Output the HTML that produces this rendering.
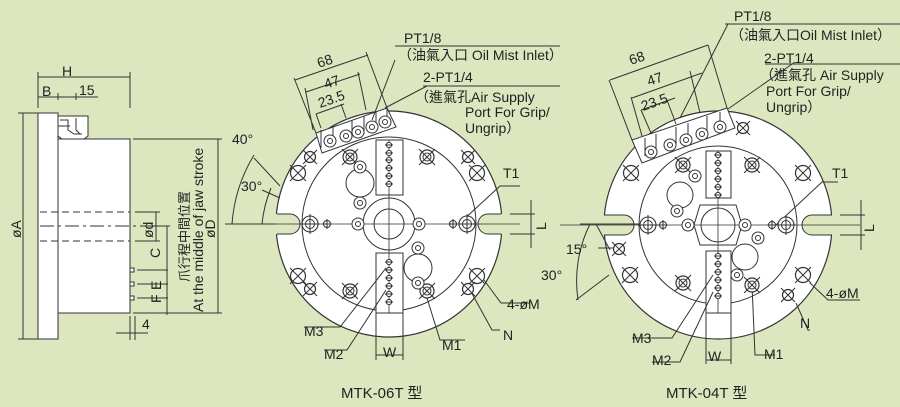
<!DOCTYPE html>
<html><head><meta charset="utf-8"><style>
html,body{margin:0;padding:0;background:#dce7c0;}
svg{display:block}
text{font-family:"Liberation Sans","Noto Sans CJK TC",sans-serif;fill:#222;}
</style></head><body>
<svg width="900" height="407" viewBox="0 0 900 407" xmlns="http://www.w3.org/2000/svg">
<defs>
<g id="hb"><circle r="7.5" fill="#fff" stroke="#333" stroke-width="1.2"/><path d="M-8 -8L8 8M8 -8L-8 8" stroke="#333" stroke-width="1"/></g>
<g id="hd"><circle r="7" fill="#fff" stroke="#333" stroke-width="1.2"/><circle r="4" fill="none" stroke="#333"/><path d="M-8 -8L8 8M8 -8L-8 8" stroke="#333" stroke-width="1"/></g>
<g id="hs"><circle r="5.5" fill="#fff" stroke="#333" stroke-width="1.2"/><path d="M-7 -7L7 7M7 -7L-7 7" stroke="#333" stroke-width="1"/></g>
<g id="ha"><circle r="8" fill="#fff" stroke="#333" stroke-width="1.1"/><circle r="4.5" fill="none" stroke="#333"/><path d="M-10 0H10M0 -10V10" stroke="#333"/></g>
<g id="hm"><circle r="3.5" fill="#fff" stroke="#333"/><path d="M-5 0H5M0 -5V5" stroke="#333"/></g>
<g id="hr"><circle r="6" fill="#fff" stroke="#333"/><circle r="2.5" fill="none" stroke="#333"/></g>
<g id="dot"><circle r="2.6" fill="#fff" stroke="#333"/><path d="M-4 0H4" stroke="#333"/></g>
</defs>
<g stroke="#333" stroke-width="1" fill="none">
<!-- SIDE VIEW -->
<rect x="38" y="113" width="20" height="226" fill="#fff"/>
<rect x="58" y="139" width="72" height="174" fill="#fff"/>
<path d="M58 116H88V136L84 139H62L58 136Z" fill="#fff"/>
<path d="M60 120H68V130L74 134H82M76 118V130L80 134M58 126H70"/>
<path d="M40 212H130M40 241H130" stroke-dasharray="7 4"/>
<path d="M40 226H138" stroke-dasharray="14 4 3 4"/>
<rect x="130" y="268" width="4" height="4" fill="#fff"/><rect x="130" y="282" width="4" height="4" fill="#fff"/><rect x="130" y="296" width="4" height="4" fill="#fff"/>
<path d="M38 108V72M130 108V72M38 77H130M38 97H58M58 93V100M76 93V100M58 97H98"/>
<path d="M18 113H38M18 339H38M23 113V339"/>
<path d="M133 139H222M133 313H222M218 139V313"/>
<path d="M135 212H160M135 241H160M156 212V241M140 226H170M167 226V315M137 270H168M137 284H168M137 298H168"/>
<path d="M130 316V340M135 316V340M116 333H148"/>
<!-- LEFT CHUCK -->
<circle cx="389" cy="224" r="113" fill="#fff" stroke-width="1.2"/>
<path d="M270 214H290A10 10 0 0 1 290 234H270Z" fill="#dce7c0" stroke="none"/>
<path d="M277 214H290A10 10 0 0 1 290 234H277" />
<path d="M508 214H488A10 10 0 0 0 488 234H508Z" fill="#dce7c0" stroke="none"/>
<path d="M501 214H488A10 10 0 0 0 488 234H501"/>
<circle cx="389" cy="224" r="87"/>
<rect x="376" y="140" width="27" height="55" fill="#fff"/>
<rect x="376" y="253" width="27" height="60" fill="#fff"/>
<path d="M376 313V360M403 313V360M376 355H403"/>
<circle cx="389" cy="224" r="26" fill="#fff"/><circle cx="389" cy="224" r="15"/>
<path d="M270 224H520M389 140V313" stroke-width="0.8"/>
<circle cx="360" cy="183" r="14" fill="#fff"/><circle cx="418" cy="268" r="14" fill="#fff"/>
<polygon points="316,133 387,108 396,127 322,153" fill="#fff"/>
<path d="M321 130V148M333 126V144M352 120V138M364 116V134M376 112V128M387 108V124"/>
<path d="M316 133L294 78M387 108L366 52M295 80L368 55M313 130L305 88M366 110L358 72M306 92L360 74M321 128L316 114M346 118L341 104M316 114L344 104"/>
<path d="M395 60L372 120M427 86L385 108"/>
<path d="M395 46H560M423 86H560"/>
<path d="M280 186L254 158M280 198L262 190M232 224A154 154 0 0 1 254 155M262 224A127 127 0 0 1 271 188M225 224H275"/>
<path d="M510 214H535M510 234H535M531 200V248"/>
<path d="M462 221L500 186H520M481 276L501 303H530M470 290L492 330H500M427 298L440 340H465M386 268L340 327H304M386 290L347 350H324"/>
<!-- RIGHT CHUCK -->
<circle cx="718" cy="225" r="114" fill="#fff" stroke-width="1.2"/>
<path d="M598 215H624A10 10 0 0 1 624 235H598Z" fill="#dce7c0" stroke="none"/>
<path d="M604 215H624A10 10 0 0 1 624 235H604"/>
<path d="M838 215H812A10 10 0 0 0 812 235H838Z" fill="#dce7c0" stroke="none"/>
<path d="M832 215H812A10 10 0 0 0 812 235H832"/>
<circle cx="718" cy="225" r="79"/>
<rect x="706" y="151" width="25" height="47" fill="#fff"/>
<rect x="706" y="251" width="25" height="62" fill="#fff"/>
<path d="M706 313V364M731 313V364M706 360H731"/>
<path d="M700 205L736 205L742 225L736 245L700 245L694 225Z" fill="#fff"/>
<circle cx="718" cy="225" r="17" fill="#fff"/>
<path d="M560 225H860M718 151V313" stroke-width="0.8"/>
<circle cx="680" cy="195" r="13" fill="#fff"/><circle cx="745" cy="257" r="13" fill="#fff"/>
<polygon points="632,140 727,108 735,128 642,163" fill="#fff"/>
<path d="M645 138V156M656 134V152M676 127V145M688 123V141M707 116V132M720 112V128"/>
<path d="M632 140L609 80M727 108L708 45M610 80L708 45M642 136L631 97M700 113L690 71M632 98L702 73M651 133L641 110M676 124L667 100M641 110L675 98"/>
<path d="M728 24L680 118M795 62L728 109"/>
<path d="M725 24H900M765 64H900"/>
<path d="M610 250L596 224M609 275L576 300M590 224A128 128 0 0 0 578 300M598 248H620M580 224H640"/>
<path d="M840 215H865M840 235H865M861 200V250"/>
<path d="M776 225L822 182H838M810 283L828 300H860M796 303L808 330H810M752 285L755 355H775M713 275L672 338H632M713 292L680 362H652"/>
</g>
<use href="#hb" x="298" y="173"/><use href="#hb" x="477" y="173"/><use href="#hb" x="298" y="276"/><use href="#hb" x="477" y="276"/>
<use href="#hs" x="310" y="157"/><use href="#hs" x="468" y="157"/><use href="#hs" x="310" y="289"/><use href="#hs" x="468" y="289"/>
<use href="#hd" x="350" y="157"/><use href="#hd" x="427" y="157"/><use href="#hd" x="350" y="291"/><use href="#hd" x="427" y="291"/>
<use href="#ha" x="310" y="224"/><use href="#ha" x="467" y="224"/>
<use href="#hm" x="327" y="224"/><use href="#hm" x="453" y="224"/>
<use href="#hr" x="358" y="224"/><use href="#hr" x="419" y="224"/>
<use href="#hr" x="360" y="167"/><use href="#hr" x="360" y="203"/><use href="#hr" x="418" y="248"/><use href="#hr" x="418" y="283"/>
<use href="#dot" x="389" y="145"/><use href="#dot" x="389" y="153"/><use href="#dot" x="389" y="160"/><use href="#dot" x="389" y="168"/><use href="#dot" x="389" y="176"/><use href="#dot" x="389" y="184"/>
<use href="#dot" x="389" y="262"/><use href="#dot" x="389" y="270"/><use href="#dot" x="389" y="278"/><use href="#dot" x="389" y="286"/><use href="#dot" x="389" y="294"/><use href="#dot" x="389" y="302"/>
<use href="#hr" x="330" y="141"/><use href="#hr" x="346" y="136"/><use href="#hr" x="358" y="132"/><use href="#hr" x="372" y="127"/><use href="#hr" x="385" y="122"/>
<use href="#hb" x="631" y="173"/><use href="#hb" x="803" y="173"/><use href="#hb" x="630" y="275"/><use href="#hb" x="803" y="275"/>
<use href="#hs" x="619" y="249"/><use href="#hs" x="788" y="295"/><use href="#hs" x="743" y="128"/>
<use href="#hd" x="683" y="165"/><use href="#hd" x="752" y="165"/><use href="#hd" x="683" y="283"/><use href="#hd" x="752" y="285"/>
<use href="#ha" x="648" y="225"/><use href="#ha" x="786" y="225"/>
<use href="#hm" x="663" y="225"/><use href="#hm" x="772" y="225"/>
<use href="#hr" x="688" y="225"/><use href="#hr" x="745" y="225"/>
<use href="#hr" x="695" y="176"/><use href="#hr" x="677" y="211"/><use href="#hr" x="758" y="238"/><use href="#hr" x="737" y="275"/>
<use href="#dot" x="718" y="155"/><use href="#dot" x="718" y="163"/><use href="#dot" x="718" y="171"/><use href="#dot" x="718" y="179"/><use href="#dot" x="718" y="187"/><use href="#dot" x="718" y="195"/>
<use href="#dot" x="718" y="256"/><use href="#dot" x="718" y="264"/><use href="#dot" x="718" y="272"/><use href="#dot" x="718" y="280"/><use href="#dot" x="718" y="288"/><use href="#dot" x="718" y="296"/>
<use href="#hr" x="651" y="152"/><use href="#hr" x="670" y="145"/><use href="#hr" x="686" y="140"/><use href="#hr" x="702" y="134"/><use href="#hr" x="720" y="127"/>
<g font-size="14">
<text x="62" y="76">H</text><text x="42" y="96">B</text><text x="79" y="95">15</text>
<text transform="translate(21,238) rotate(-90)">øA</text>
<text transform="translate(215,238) rotate(-90)">øD</text>
<text transform="translate(203,312) rotate(-90)">At the middle of jaw stroke</text>
<text transform="translate(189,282) rotate(-90)" font-size="13">爪行程中間位置</text>
<text transform="translate(153,238) rotate(-90)">ød</text>
<text transform="translate(160,258) rotate(-90)">C</text>
<text transform="translate(161,290) rotate(-90)">E</text>
<text transform="translate(161,303) rotate(-90)">F</text>
<text x="142" y="329">4</text>
<text x="319" y="68" transform="rotate(-19 319 68)">68</text>
<text x="326" y="89" transform="rotate(-19 326 89)">47</text>
<text x="320" y="108" transform="rotate(-19 320 108)">23.5</text>
<text x="404" y="43">PT1/8</text>
<text x="398" y="60">（油氣入口 Oil Mist Inlet）</text>
<text x="423" y="82">2-PT1/4</text>
<text x="415" y="102">（進氣孔Air Supply</text>
<text x="465" y="117">Port For Grip/</text>
<text x="465" y="133">Ungrip）</text>
<text x="232" y="144">40°</text><text x="241" y="191">30°</text>
<text x="503" y="178">T1</text>
<text transform="translate(546,230) rotate(-90)">L</text>
<text x="507" y="309">4-øM</text><text x="503" y="340">N</text>
<text x="442" y="350">M1</text><text x="304" y="336">M3</text><text x="324" y="359">M2</text><text x="383" y="357">W</text>
<text x="341" y="398" font-size="15">MTK-06T 型</text>
<text x="631" y="65" transform="rotate(-19 631 65)">68</text>
<text x="649" y="86" transform="rotate(-19 649 86)">47</text>
<text x="643" y="111" transform="rotate(-19 643 111)">23.5</text>
<text x="734" y="21">PT1/8</text>
<text x="730" y="40">（油氣入口Oil Mist Inlet）</text>
<text x="764" y="63">2-PT1/4</text>
<text x="760" y="80">（進氣孔 Air Supply</text>
<text x="766" y="96">Port For Grip/</text>
<text x="766" y="112">Ungrip）</text>
<text x="566" y="254">15°</text><text x="541" y="280">30°</text>
<text x="832" y="178">T1</text>
<text transform="translate(874,232) rotate(-90)">L</text>
<text x="826" y="298">4-øM</text><text x="800" y="328">N</text>
<text x="764" y="359">M1</text><text x="632" y="343">M3</text><text x="652" y="365">M2</text><text x="708" y="361">W</text>
<text x="666" y="398" font-size="15">MTK-04T 型</text>
</g>
</svg>
</body></html>
